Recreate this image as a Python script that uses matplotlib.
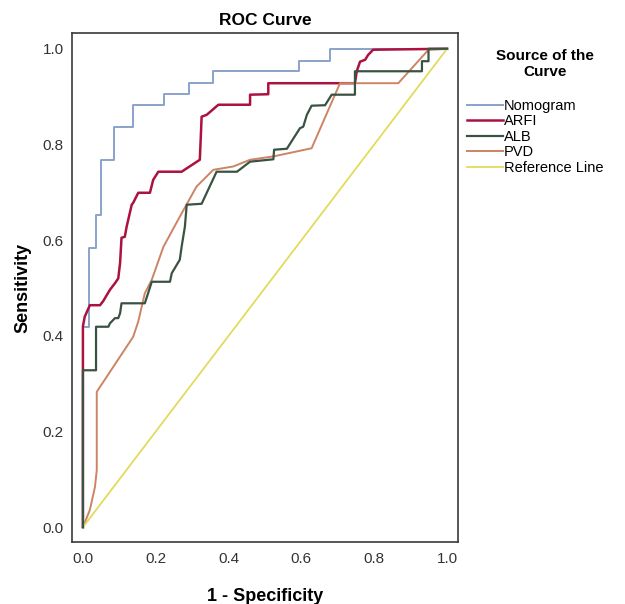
"""
ROC curves of the nomogram and the single markers (ARFI, ALB, PVD).
"""
import matplotlib
matplotlib.use('Agg')
import matplotlib.pyplot as plt

plt.rcParams['font.family'] = ['Liberation Sans', 'DejaVu Sans']

# Points of each curve (1 - specificity, sensitivity).
nomogram_fpr = [0, 0, 0.017, 0.017, 0.036, 0.036, 0.051, 0.051, 0.086, 0.086,
                0.137, 0.137, 0.223, 0.223, 0.291, 0.291, 0.357, 0.357,
                0.593, 0.593, 0.679, 0.679, 1.0]
nomogram_tpr = [0, 0.418, 0.418, 0.584, 0.584, 0.653, 0.653, 0.768, 0.768,
                0.837, 0.837, 0.883, 0.883, 0.905, 0.905, 0.928, 0.928,
                0.953, 0.953, 0.975, 0.975, 1.0, 1.0]

arfi_fpr = [0, 0, 0.005, 0.019, 0.047, 0.056, 0.074, 0.088, 0.097, 0.102,
            0.106, 0.115, 0.12, 0.134, 0.138, 0.152, 0.184, 0.193, 0.207,
            0.271, 0.321, 0.326, 0.34, 0.372, 0.459, 0.459, 0.509, 0.509,
            0.747, 0.752, 0.761, 0.775, 0.783, 0.797, 1.0]
arfi_tpr = [0, 0.42, 0.44, 0.464, 0.464, 0.473, 0.496, 0.51, 0.52, 0.552,
            0.605, 0.607, 0.628, 0.674, 0.678, 0.699, 0.699, 0.726, 0.743,
            0.743, 0.768, 0.858, 0.862, 0.883, 0.883, 0.904, 0.905, 0.928,
            0.928, 0.953, 0.973, 0.977, 0.987, 0.998, 1.0]

alb_fpr = [0, 0, 0.036, 0.036, 0.07, 0.074, 0.088, 0.097, 0.102, 0.106,
           0.17, 0.179, 0.189, 0.239, 0.244, 0.266, 0.271, 0.28, 0.285,
           0.326, 0.367, 0.423, 0.459, 0.523, 0.525, 0.56, 0.596, 0.605,
           0.615, 0.628, 0.665, 0.683, 0.747, 0.747, 0.931, 0.931, 0.949,
           0.949, 1.0]
alb_tpr = [0, 0.328, 0.328, 0.419, 0.419, 0.426, 0.437, 0.437, 0.447, 0.468,
           0.468, 0.489, 0.513, 0.513, 0.531, 0.559, 0.586, 0.628, 0.674,
           0.676, 0.743, 0.743, 0.764, 0.769, 0.789, 0.791, 0.834, 0.837,
           0.862, 0.881, 0.882, 0.904, 0.904, 0.953, 0.953, 0.974, 0.974,
           1.0, 1.0]

pvd_fpr = [0, 0.019, 0.033, 0.038, 0.038, 0.138, 0.152, 0.17, 0.189, 0.221,
           0.266, 0.312, 0.358, 0.413, 0.459, 0.523, 0.628, 0.706, 0.866,
           0.949, 1.0]
pvd_tpr = [0, 0.036, 0.084, 0.119, 0.283, 0.398, 0.43, 0.489, 0.517, 0.586,
           0.649, 0.712, 0.747, 0.754, 0.768, 0.775, 0.792, 0.928, 0.928,
           0.998, 1.0]

ref_fpr = [0, 1]
ref_tpr = [0, 1]

ticks = [0.0, 0.2, 0.4, 0.6, 0.8, 1.0]

fig = plt.figure(figsize=(6.25, 6.04), dpi=100)
ax = fig.add_axes([0.1152, 0.1026, 0.6176, 0.8428])

ax.plot(nomogram_fpr, nomogram_tpr, color='#8aa3cc', lw=1.4, label='Nomogram')
ax.plot(arfi_fpr, arfi_tpr, color='#ab1240', lw=1.8, label='ARFI')
ax.plot(alb_fpr, alb_tpr, color='#3a5242', lw=1.6, label='ALB', zorder=3)
ax.plot(pvd_fpr, pvd_tpr, color='#cc8464', lw=1.4, label='PVD')
ax.plot(ref_fpr, ref_tpr, color='#e4da5c', lw=1.3, label='Reference Line')

ax.set_xlim(-0.030, 1.030)
ax.set_ylim(-0.031, 1.033)
ax.set_xticks(ticks)
ax.set_yticks(ticks)
ax.set_xticklabels(['%.1f' % t for t in ticks])
ax.set_yticklabels(['%.1f' % t for t in ticks])
ax.tick_params(length=0, labelsize=11, labelcolor='#333333')
ax.tick_params(axis='x', pad=7)
ax.tick_params(axis='y', pad=6)
for spine in ax.spines.values():
    spine.set_color('#3a3a3a')
    spine.set_linewidth(1.2)

ax.set_xlabel('1 - Specificity', fontsize=13, fontweight='bold', labelpad=16)
ax.set_ylabel('Sensitivity', fontsize=13, fontweight='bold', labelpad=8)
ax.set_title('ROC Curve', fontsize=12.5, fontweight='bold', pad=6)

# Legend title is written separately so it can sit centred above the entries.
fig.text(545 / 625, 1 - 49 / 604, 'Source of the\nCurve', ha='center',
         va='top', fontsize=11, fontweight='bold', multialignment='center')
ax.legend(loc='upper left', bbox_to_anchor=(467 / 625, 1 - 99 / 604),
          bbox_transform=fig.transFigure, frameon=False,
          fontsize=10.5, handlelength=2.5, handletextpad=0.05,
          labelspacing=0.1, borderpad=0, borderaxespad=0)

plt.savefig('out.png', dpi=100)
